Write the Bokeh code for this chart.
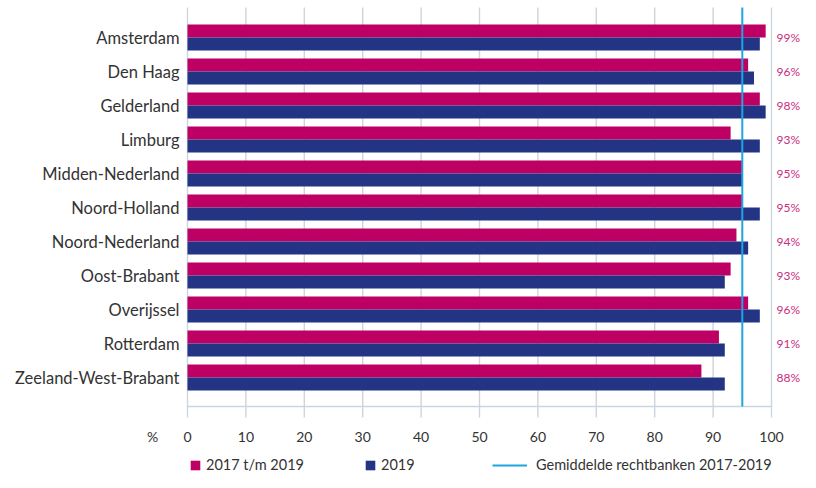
from bokeh.plotting import figure
from bokeh.models import ColumnDataSource, Range1d, Legend, LegendItem
from bokeh.core.properties import value
from bokeh.embed import file_html
from bokeh.resources import INLINE

categories = ["Amsterdam", "Den Haag", "Gelderland", "Limburg", "Midden-Nederland",
              "Noord-Holland", "Noord-Nederland", "Oost-Brabant", "Overijssel",
              "Rotterdam", "Zeeland-West-Brabant"]
values_2017_2019 = [99, 96, 98, 93, 95, 95, 94, 93, 96, 91, 88]
values_2019 = [98, 97, 99, 98, 95, 98, 96, 92, 98, 92, 92]
average_2017_2019 = [95]
x_ticks = [0, 10, 20, 30, 40, 50, 60, 70, 80, 90, 100]
x_unit_label = "%"
series_names = ["2017 t/m 2019", "2019", "Gemiddelde rechtbanken 2017-2019"]

PINK = "#BE0064"
BLUE = "#223483"
LINE = "#1EA5E0"
GRID = "#CBD5DE"
TEXT = "#333333"
LABEL_PINK = "#CC2C7C"
FONT = value("Lato")

# ---- layout (screen geometry) ----
W, H = 800, 472
PX_X = 5.84         # pixels per percent
X0 = 187            # canvas x of value 0
ROW = 34            # pixels per category row
Y0 = 37             # canvas y of first row centre


def xd(px):
    return (px - X0) / PX_X


def yd(py):
    return (py - Y0) / ROW


p = figure(output_backend="svg", toolbar_location=None, width=W, height=H,
           x_range=Range1d(xd(0), xd(W)), y_range=Range1d(yd(H), yd(0)),
           x_axis_type=None, y_axis_type=None, min_border=0)
p.outline_line_color = None
p.background_fill_color = "white"
p.border_fill_color = "white"

idx = list(range(len(categories)))
bar_h = 13 / ROW
axis_y = yd(406)
tick_end = yd(417)
label_y = yd(436)
top_y = yd(7)

# grid lines (with tick stubs below the axis)
grid = ColumnDataSource(dict(x=x_ticks, y0=[top_y] * len(x_ticks),
                             y1=[tick_end] * len(x_ticks),
                             lab=[str(t) for t in x_ticks]))
p.segment(x0="x", y0="y0", x1="x", y1="y1", source=grid,
          line_color=GRID, line_width=1.4)
p.segment(x0=[x_ticks[0]], y0=[axis_y], x1=[x_ticks[-1]], y1=[axis_y],
          line_color=GRID, line_width=1.6)

src = ColumnDataSource(dict(
    y_a=[i - bar_h / 2 for i in idx],
    y_b=[i + bar_h / 2 for i in idx],
    y=idx,
    a=values_2017_2019,
    b=values_2019,
    cat=categories,
    lab=[f"{v}%" for v in values_2017_2019],
))

r_a = p.hbar(y="y_a", right="a", left=0, height=bar_h, source=src,
             fill_color=PINK, line_color=None)
r_b = p.hbar(y="y_b", right="b", left=0, height=bar_h, source=src,
             fill_color=BLUE, line_color=None)

r_avg = p.segment(x0=average_2017_2019, y0=[top_y], x1=average_2017_2019, y1=[axis_y],
                  line_color=LINE, line_width=2)

# x tick labels
p.text(x="x", y=label_y, text="lab", source=grid, text_align="center",
       text_baseline="middle", text_font=FONT, text_font_size="14px",
       text_color=TEXT)
p.text(x=[0], y=[label_y], text=[x_unit_label], x_offset=-35, text_align="center",
       text_baseline="middle", text_font=FONT, text_font_size="14px",
       text_color=TEXT)

# category labels
p.text(x=0, y="y", text="cat", source=src, x_offset=-8, text_align="right",
       text_baseline="middle", text_font=FONT, text_font_size="16.5px",
       text_color=TEXT)

# value labels on the right
p.text(x=100, y="y", text="lab", source=src, x_offset=5, text_align="left",
       text_baseline="middle", text_font=FONT, text_font_size="12px",
       text_color=LABEL_PINK)

leg1 = Legend(items=[LegendItem(label=series_names[0], renderers=[r_a]),
                     LegendItem(label=series_names[1], renderers=[r_b])],
              orientation="horizontal", location=(189, -1),
              glyph_width=12, glyph_height=12, label_standoff=5, spacing=60,
              padding=0, margin=0, border_line_color=None,
              background_fill_alpha=0, label_text_font="Lato",
              label_text_font_size="14.5px", label_text_color=TEXT)
leg2 = Legend(items=[LegendItem(label=series_names[2], renderers=[r_avg])],
              orientation="horizontal", location=(492, -1),
              glyph_width=35, glyph_height=12, label_standoff=9,
              padding=0, margin=0, border_line_color=None,
              background_fill_alpha=0, label_text_font="Lato",
              label_text_font_size="14.5px", label_text_color=TEXT)
p.add_layout(leg1)
p.add_layout(leg2)

open("out.html", "w").write(file_html(p, INLINE))
